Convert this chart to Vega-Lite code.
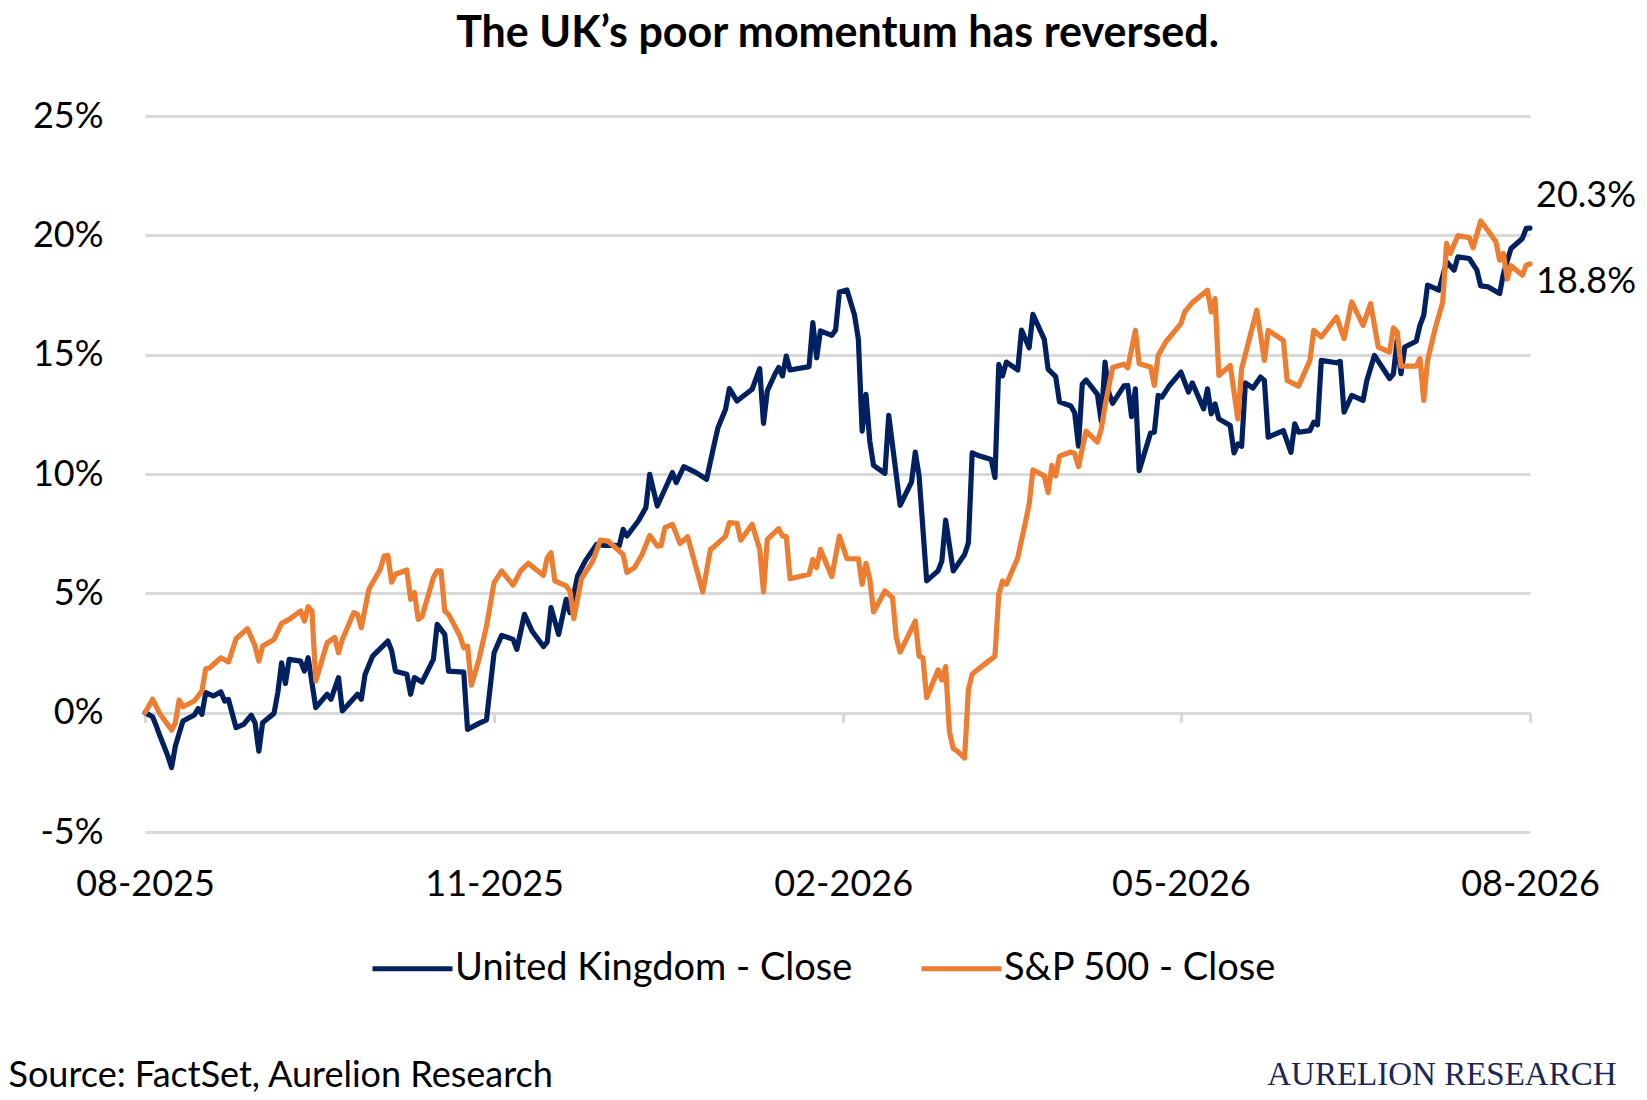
{
  "$schema": "https://vega.github.io/schema/vega-lite/v6.json",
  "width": 1385,
  "height": 716,
  "autosize": {"type": "none"},
  "padding": {"left": 145, "top": 116, "right": 117, "bottom": 268},
  "background": "#ffffff",
  "title": {
    "text": "The UK’s poor momentum has reversed.",
    "anchor": "middle",
    "frame": "group",
    "baseline": "alphabetic",
    "offset": 8,
    "fontSize": 43,
    "fontWeight": "bold",
    "color": "#000000"
  },
  "data": {
    "format": {"parse": {"date": "utc:'%Y-%m-%d'"}},
    "values": [
      {"date": "2025-08-01", "series": "UK", "value": 0},
      {"date": "2025-08-03", "series": "UK", "value": -0.0017},
      {"date": "2025-08-04", "series": "UK", "value": -0.0056},
      {"date": "2025-08-05", "series": "UK", "value": -0.01},
      {"date": "2025-08-07", "series": "UK", "value": -0.018},
      {"date": "2025-08-08", "series": "UK", "value": -0.023},
      {"date": "2025-08-09", "series": "UK", "value": -0.014},
      {"date": "2025-08-11", "series": "UK", "value": -0.0035},
      {"date": "2025-08-14", "series": "UK", "value": -0.001},
      {"date": "2025-08-15", "series": "UK", "value": 0.0017},
      {"date": "2025-08-16", "series": "UK", "value": -0.0007},
      {"date": "2025-08-17", "series": "UK", "value": 0.0084},
      {"date": "2025-08-19", "series": "UK", "value": 0.007},
      {"date": "2025-08-21", "series": "UK", "value": 0.0087},
      {"date": "2025-08-22", "series": "UK", "value": 0.0049},
      {"date": "2025-08-23", "series": "UK", "value": 0.0055},
      {"date": "2025-08-25", "series": "UK", "value": -0.0063},
      {"date": "2025-08-27", "series": "UK", "value": -0.0049},
      {"date": "2025-08-29", "series": "UK", "value": -0.0011},
      {"date": "2025-08-30", "series": "UK", "value": -0.0042},
      {"date": "2025-08-31", "series": "UK", "value": -0.0161},
      {"date": "2025-09-01", "series": "UK", "value": -0.0042},
      {"date": "2025-09-04", "series": "UK", "value": -0.0003},
      {"date": "2025-09-05", "series": "UK", "value": 0.0084},
      {"date": "2025-09-06", "series": "UK", "value": 0.0209},
      {"date": "2025-09-07", "series": "UK", "value": 0.0122},
      {"date": "2025-09-08", "series": "UK", "value": 0.0223},
      {"date": "2025-09-11", "series": "UK", "value": 0.0216},
      {"date": "2025-09-12", "series": "UK", "value": 0.0174},
      {"date": "2025-09-13", "series": "UK", "value": 0.023},
      {"date": "2025-09-15", "series": "UK", "value": 0.0021},
      {"date": "2025-09-18", "series": "UK", "value": 0.0077},
      {"date": "2025-09-19", "series": "UK", "value": 0.0056},
      {"date": "2025-09-21", "series": "UK", "value": 0.0147},
      {"date": "2025-09-22", "series": "UK", "value": 0.0007},
      {"date": "2025-09-26", "series": "UK", "value": 0.0077},
      {"date": "2025-09-27", "series": "UK", "value": 0.0056},
      {"date": "2025-09-28", "series": "UK", "value": 0.016},
      {"date": "2025-09-30", "series": "UK", "value": 0.0237},
      {"date": "2025-10-04", "series": "UK", "value": 0.03},
      {"date": "2025-10-05", "series": "UK", "value": 0.026},
      {"date": "2025-10-06", "series": "UK", "value": 0.0174},
      {"date": "2025-10-09", "series": "UK", "value": 0.0161},
      {"date": "2025-10-10", "series": "UK", "value": 0.0077},
      {"date": "2025-10-11", "series": "UK", "value": 0.0147},
      {"date": "2025-10-13", "series": "UK", "value": 0.0128},
      {"date": "2025-10-16", "series": "UK", "value": 0.0223},
      {"date": "2025-10-17", "series": "UK", "value": 0.037},
      {"date": "2025-10-19", "series": "UK", "value": 0.0328},
      {"date": "2025-10-20", "series": "UK", "value": 0.0174},
      {"date": "2025-10-24", "series": "UK", "value": 0.017},
      {"date": "2025-10-25", "series": "UK", "value": -0.007},
      {"date": "2025-10-28", "series": "UK", "value": -0.0045},
      {"date": "2025-10-30", "series": "UK", "value": -0.003},
      {"date": "2025-11-01", "series": "UK", "value": 0.0251},
      {"date": "2025-11-03", "series": "UK", "value": 0.0324},
      {"date": "2025-11-06", "series": "UK", "value": 0.0307},
      {"date": "2025-11-07", "series": "UK", "value": 0.0265},
      {"date": "2025-11-09", "series": "UK", "value": 0.0412},
      {"date": "2025-11-11", "series": "UK", "value": 0.0342},
      {"date": "2025-11-14", "series": "UK", "value": 0.0277},
      {"date": "2025-11-15", "series": "UK", "value": 0.0296},
      {"date": "2025-11-16", "series": "UK", "value": 0.044},
      {"date": "2025-11-18", "series": "UK", "value": 0.0328},
      {"date": "2025-11-20", "series": "UK", "value": 0.0475},
      {"date": "2025-11-21", "series": "UK", "value": 0.0419},
      {"date": "2025-11-23", "series": "UK", "value": 0.0573},
      {"date": "2025-11-25", "series": "UK", "value": 0.0635},
      {"date": "2025-11-28", "series": "UK", "value": 0.0705},
      {"date": "2025-11-30", "series": "UK", "value": 0.0701},
      {"date": "2025-12-02", "series": "UK", "value": 0.0701},
      {"date": "2025-12-04", "series": "UK", "value": 0.07},
      {"date": "2025-12-05", "series": "UK", "value": 0.0768},
      {"date": "2025-12-06", "series": "UK", "value": 0.074},
      {"date": "2025-12-09", "series": "UK", "value": 0.0803},
      {"date": "2025-12-11", "series": "UK", "value": 0.0859},
      {"date": "2025-12-12", "series": "UK", "value": 0.0999},
      {"date": "2025-12-14", "series": "UK", "value": 0.0866},
      {"date": "2025-12-16", "series": "UK", "value": 0.0936},
      {"date": "2025-12-18", "series": "UK", "value": 0.1006},
      {"date": "2025-12-19", "series": "UK", "value": 0.0964},
      {"date": "2025-12-21", "series": "UK", "value": 0.1031},
      {"date": "2025-12-24", "series": "UK", "value": 0.1008},
      {"date": "2025-12-27", "series": "UK", "value": 0.0978},
      {"date": "2025-12-29", "series": "UK", "value": 0.1124},
      {"date": "2025-12-30", "series": "UK", "value": 0.1194},
      {"date": "2026-01-01", "series": "UK", "value": 0.1271},
      {"date": "2026-01-02", "series": "UK", "value": 0.1358},
      {"date": "2026-01-04", "series": "UK", "value": 0.1306},
      {"date": "2026-01-08", "series": "UK", "value": 0.1355},
      {"date": "2026-01-10", "series": "UK", "value": 0.1441},
      {"date": "2026-01-11", "series": "UK", "value": 0.1212},
      {"date": "2026-01-12", "series": "UK", "value": 0.1348},
      {"date": "2026-01-14", "series": "UK", "value": 0.1418},
      {"date": "2026-01-15", "series": "UK", "value": 0.1446},
      {"date": "2026-01-16", "series": "UK", "value": 0.1411},
      {"date": "2026-01-17", "series": "UK", "value": 0.1494},
      {"date": "2026-01-18", "series": "UK", "value": 0.1436},
      {"date": "2026-01-23", "series": "UK", "value": 0.145},
      {"date": "2026-01-24", "series": "UK", "value": 0.1634},
      {"date": "2026-01-25", "series": "UK", "value": 0.1487},
      {"date": "2026-01-26", "series": "UK", "value": 0.16},
      {"date": "2026-01-29", "series": "UK", "value": 0.1581},
      {"date": "2026-01-30", "series": "UK", "value": 0.1603},
      {"date": "2026-01-31", "series": "UK", "value": 0.1763},
      {"date": "2026-02-02", "series": "UK", "value": 0.1771},
      {"date": "2026-02-04", "series": "UK", "value": 0.1665},
      {"date": "2026-02-05", "series": "UK", "value": 0.1564},
      {"date": "2026-02-06", "series": "UK", "value": 0.118},
      {"date": "2026-02-07", "series": "UK", "value": 0.1334},
      {"date": "2026-02-08", "series": "UK", "value": 0.1138},
      {"date": "2026-02-09", "series": "UK", "value": 0.1036},
      {"date": "2026-02-12", "series": "UK", "value": 0.1003},
      {"date": "2026-02-13", "series": "UK", "value": 0.1246},
      {"date": "2026-02-16", "series": "UK", "value": 0.0869},
      {"date": "2026-02-19", "series": "UK", "value": 0.0966},
      {"date": "2026-02-20", "series": "UK", "value": 0.1092},
      {"date": "2026-02-21", "series": "UK", "value": 0.0992},
      {"date": "2026-02-23", "series": "UK", "value": 0.0552},
      {"date": "2026-02-26", "series": "UK", "value": 0.0594},
      {"date": "2026-02-27", "series": "UK", "value": 0.0635},
      {"date": "2026-02-28", "series": "UK", "value": 0.0807},
      {"date": "2026-03-02", "series": "UK", "value": 0.0594},
      {"date": "2026-03-05", "series": "UK", "value": 0.0663},
      {"date": "2026-03-06", "series": "UK", "value": 0.0712},
      {"date": "2026-03-07", "series": "UK", "value": 0.1089},
      {"date": "2026-03-09", "series": "UK", "value": 0.1075},
      {"date": "2026-03-12", "series": "UK", "value": 0.1061},
      {"date": "2026-03-13", "series": "UK", "value": 0.0985},
      {"date": "2026-03-14", "series": "UK", "value": 0.1459},
      {"date": "2026-03-15", "series": "UK", "value": 0.1411},
      {"date": "2026-03-16", "series": "UK", "value": 0.1469},
      {"date": "2026-03-19", "series": "UK", "value": 0.1436},
      {"date": "2026-03-20", "series": "UK", "value": 0.1603},
      {"date": "2026-03-22", "series": "UK", "value": 0.1529},
      {"date": "2026-03-23", "series": "UK", "value": 0.1669},
      {"date": "2026-03-26", "series": "UK", "value": 0.1564},
      {"date": "2026-03-27", "series": "UK", "value": 0.1439},
      {"date": "2026-03-29", "series": "UK", "value": 0.1408},
      {"date": "2026-03-30", "series": "UK", "value": 0.1302},
      {"date": "2026-04-02", "series": "UK", "value": 0.1285},
      {"date": "2026-04-03", "series": "UK", "value": 0.1257},
      {"date": "2026-04-04", "series": "UK", "value": 0.1117},
      {"date": "2026-04-05", "series": "UK", "value": 0.1376},
      {"date": "2026-04-06", "series": "UK", "value": 0.1394},
      {"date": "2026-04-09", "series": "UK", "value": 0.1334},
      {"date": "2026-04-10", "series": "UK", "value": 0.1222},
      {"date": "2026-04-11", "series": "UK", "value": 0.1469},
      {"date": "2026-04-12", "series": "UK", "value": 0.1341},
      {"date": "2026-04-13", "series": "UK", "value": 0.1296},
      {"date": "2026-04-16", "series": "UK", "value": 0.1369},
      {"date": "2026-04-17", "series": "UK", "value": 0.1371},
      {"date": "2026-04-18", "series": "UK", "value": 0.124},
      {"date": "2026-04-19", "series": "UK", "value": 0.1357},
      {"date": "2026-04-20", "series": "UK", "value": 0.1014},
      {"date": "2026-04-23", "series": "UK", "value": 0.1172},
      {"date": "2026-04-24", "series": "UK", "value": 0.1175},
      {"date": "2026-04-25", "series": "UK", "value": 0.1329},
      {"date": "2026-04-26", "series": "UK", "value": 0.1322},
      {"date": "2026-04-28", "series": "UK", "value": 0.1371},
      {"date": "2026-05-01", "series": "UK", "value": 0.1427},
      {"date": "2026-05-03", "series": "UK", "value": 0.1343},
      {"date": "2026-05-04", "series": "UK", "value": 0.1382},
      {"date": "2026-05-07", "series": "UK", "value": 0.1273},
      {"date": "2026-05-08", "series": "UK", "value": 0.1357},
      {"date": "2026-05-09", "series": "UK", "value": 0.1252},
      {"date": "2026-05-10", "series": "UK", "value": 0.1294},
      {"date": "2026-05-11", "series": "UK", "value": 0.1231},
      {"date": "2026-05-14", "series": "UK", "value": 0.1203},
      {"date": "2026-05-15", "series": "UK", "value": 0.1088},
      {"date": "2026-05-16", "series": "UK", "value": 0.1126},
      {"date": "2026-05-17", "series": "UK", "value": 0.1116},
      {"date": "2026-05-18", "series": "UK", "value": 0.1382},
      {"date": "2026-05-20", "series": "UK", "value": 0.136},
      {"date": "2026-05-22", "series": "UK", "value": 0.1406},
      {"date": "2026-05-23", "series": "UK", "value": 0.1392},
      {"date": "2026-05-24", "series": "UK", "value": 0.1154},
      {"date": "2026-05-28", "series": "UK", "value": 0.1182},
      {"date": "2026-05-30", "series": "UK", "value": 0.1091},
      {"date": "2026-05-31", "series": "UK", "value": 0.121},
      {"date": "2026-06-01", "series": "UK", "value": 0.1175},
      {"date": "2026-06-04", "series": "UK", "value": 0.1182},
      {"date": "2026-06-05", "series": "UK", "value": 0.1217},
      {"date": "2026-06-06", "series": "UK", "value": 0.1206},
      {"date": "2026-06-07", "series": "UK", "value": 0.1476},
      {"date": "2026-06-11", "series": "UK", "value": 0.1466},
      {"date": "2026-06-12", "series": "UK", "value": 0.1472},
      {"date": "2026-06-13", "series": "UK", "value": 0.1259},
      {"date": "2026-06-15", "series": "UK", "value": 0.1329},
      {"date": "2026-06-18", "series": "UK", "value": 0.1308},
      {"date": "2026-06-19", "series": "UK", "value": 0.1392},
      {"date": "2026-06-21", "series": "UK", "value": 0.1497},
      {"date": "2026-06-25", "series": "UK", "value": 0.14},
      {"date": "2026-06-26", "series": "UK", "value": 0.142},
      {"date": "2026-06-27", "series": "UK", "value": 0.156},
      {"date": "2026-06-28", "series": "UK", "value": 0.142},
      {"date": "2026-06-29", "series": "UK", "value": 0.1532},
      {"date": "2026-07-02", "series": "UK", "value": 0.1556},
      {"date": "2026-07-03", "series": "UK", "value": 0.1623},
      {"date": "2026-07-04", "series": "UK", "value": 0.1665},
      {"date": "2026-07-05", "series": "UK", "value": 0.1791},
      {"date": "2026-07-08", "series": "UK", "value": 0.177},
      {"date": "2026-07-10", "series": "UK", "value": 0.1889},
      {"date": "2026-07-12", "series": "UK", "value": 0.1854},
      {"date": "2026-07-13", "series": "UK", "value": 0.191},
      {"date": "2026-07-16", "series": "UK", "value": 0.1903},
      {"date": "2026-07-18", "series": "UK", "value": 0.1854},
      {"date": "2026-07-19", "series": "UK", "value": 0.1788},
      {"date": "2026-07-21", "series": "UK", "value": 0.1784},
      {"date": "2026-07-24", "series": "UK", "value": 0.1756},
      {"date": "2026-07-25", "series": "UK", "value": 0.184},
      {"date": "2026-07-27", "series": "UK", "value": 0.1945},
      {"date": "2026-07-30", "series": "UK", "value": 0.1987},
      {"date": "2026-07-31", "series": "UK", "value": 0.2029},
      {"date": "2026-08-01", "series": "UK", "value": 0.203},
      {"date": "2025-08-01", "series": "SPX", "value": 0},
      {"date": "2025-08-03", "series": "SPX", "value": 0.0056},
      {"date": "2025-08-05", "series": "SPX", "value": -0.0007},
      {"date": "2025-08-08", "series": "SPX", "value": -0.0073},
      {"date": "2025-08-09", "series": "SPX", "value": -0.0042},
      {"date": "2025-08-10", "series": "SPX", "value": 0.0053},
      {"date": "2025-08-11", "series": "SPX", "value": 0.0025},
      {"date": "2025-08-14", "series": "SPX", "value": 0.0049},
      {"date": "2025-08-16", "series": "SPX", "value": 0.0091},
      {"date": "2025-08-17", "series": "SPX", "value": 0.0184},
      {"date": "2025-08-18", "series": "SPX", "value": 0.0187},
      {"date": "2025-08-21", "series": "SPX", "value": 0.023},
      {"date": "2025-08-23", "series": "SPX", "value": 0.0212},
      {"date": "2025-08-25", "series": "SPX", "value": 0.031},
      {"date": "2025-08-28", "series": "SPX", "value": 0.0352},
      {"date": "2025-08-30", "series": "SPX", "value": 0.0279},
      {"date": "2025-08-31", "series": "SPX", "value": 0.0216},
      {"date": "2025-09-01", "series": "SPX", "value": 0.0279},
      {"date": "2025-09-04", "series": "SPX", "value": 0.0307},
      {"date": "2025-09-06", "series": "SPX", "value": 0.0374},
      {"date": "2025-09-08", "series": "SPX", "value": 0.0391},
      {"date": "2025-09-11", "series": "SPX", "value": 0.0426},
      {"date": "2025-09-12", "series": "SPX", "value": 0.0384},
      {"date": "2025-09-13", "series": "SPX", "value": 0.0444},
      {"date": "2025-09-14", "series": "SPX", "value": 0.0426},
      {"date": "2025-09-15", "series": "SPX", "value": 0.0133},
      {"date": "2025-09-18", "series": "SPX", "value": 0.0293},
      {"date": "2025-09-20", "series": "SPX", "value": 0.0315},
      {"date": "2025-09-21", "series": "SPX", "value": 0.0251},
      {"date": "2025-09-22", "series": "SPX", "value": 0.0307},
      {"date": "2025-09-25", "series": "SPX", "value": 0.0419},
      {"date": "2025-09-26", "series": "SPX", "value": 0.0412},
      {"date": "2025-09-27", "series": "SPX", "value": 0.0356},
      {"date": "2025-09-29", "series": "SPX", "value": 0.0517},
      {"date": "2025-10-02", "series": "SPX", "value": 0.0601},
      {"date": "2025-10-03", "series": "SPX", "value": 0.0656},
      {"date": "2025-10-04", "series": "SPX", "value": 0.0659},
      {"date": "2025-10-05", "series": "SPX", "value": 0.0547},
      {"date": "2025-10-06", "series": "SPX", "value": 0.058},
      {"date": "2025-10-09", "series": "SPX", "value": 0.0598},
      {"date": "2025-10-10", "series": "SPX", "value": 0.0475},
      {"date": "2025-10-11", "series": "SPX", "value": 0.0503},
      {"date": "2025-10-12", "series": "SPX", "value": 0.0391},
      {"date": "2025-10-13", "series": "SPX", "value": 0.0402},
      {"date": "2025-10-16", "series": "SPX", "value": 0.0566},
      {"date": "2025-10-17", "series": "SPX", "value": 0.0594},
      {"date": "2025-10-18", "series": "SPX", "value": 0.0594},
      {"date": "2025-10-19", "series": "SPX", "value": 0.0426},
      {"date": "2025-10-20", "series": "SPX", "value": 0.0412},
      {"date": "2025-10-23", "series": "SPX", "value": 0.0321},
      {"date": "2025-10-24", "series": "SPX", "value": 0.0272},
      {"date": "2025-10-25", "series": "SPX", "value": 0.0279},
      {"date": "2025-10-26", "series": "SPX", "value": 0.0115},
      {"date": "2025-10-28", "series": "SPX", "value": 0.0223},
      {"date": "2025-10-30", "series": "SPX", "value": 0.0363},
      {"date": "2025-11-01", "series": "SPX", "value": 0.0545},
      {"date": "2025-11-03", "series": "SPX", "value": 0.0594},
      {"date": "2025-11-06", "series": "SPX", "value": 0.0534},
      {"date": "2025-11-08", "series": "SPX", "value": 0.0594},
      {"date": "2025-11-10", "series": "SPX", "value": 0.0626},
      {"date": "2025-11-14", "series": "SPX", "value": 0.0575},
      {"date": "2025-11-15", "series": "SPX", "value": 0.0649},
      {"date": "2025-11-16", "series": "SPX", "value": 0.067},
      {"date": "2025-11-17", "series": "SPX", "value": 0.0552},
      {"date": "2025-11-20", "series": "SPX", "value": 0.0531},
      {"date": "2025-11-21", "series": "SPX", "value": 0.051},
      {"date": "2025-11-22", "series": "SPX", "value": 0.0394},
      {"date": "2025-11-24", "series": "SPX", "value": 0.0561},
      {"date": "2025-11-27", "series": "SPX", "value": 0.0635},
      {"date": "2025-11-29", "series": "SPX", "value": 0.0723},
      {"date": "2025-12-01", "series": "SPX", "value": 0.0719},
      {"date": "2025-12-05", "series": "SPX", "value": 0.0663},
      {"date": "2025-12-06", "series": "SPX", "value": 0.0587},
      {"date": "2025-12-08", "series": "SPX", "value": 0.0608},
      {"date": "2025-12-10", "series": "SPX", "value": 0.0663},
      {"date": "2025-12-12", "series": "SPX", "value": 0.0743},
      {"date": "2025-12-14", "series": "SPX", "value": 0.0698},
      {"date": "2025-12-15", "series": "SPX", "value": 0.07},
      {"date": "2025-12-16", "series": "SPX", "value": 0.0775},
      {"date": "2025-12-18", "series": "SPX", "value": 0.0789},
      {"date": "2025-12-20", "series": "SPX", "value": 0.0709},
      {"date": "2025-12-22", "series": "SPX", "value": 0.0737},
      {"date": "2025-12-26", "series": "SPX", "value": 0.0506},
      {"date": "2025-12-28", "series": "SPX", "value": 0.0684},
      {"date": "2025-12-29", "series": "SPX", "value": 0.0696},
      {"date": "2026-01-01", "series": "SPX", "value": 0.074},
      {"date": "2026-01-02", "series": "SPX", "value": 0.0796},
      {"date": "2026-01-04", "series": "SPX", "value": 0.0793},
      {"date": "2026-01-05", "series": "SPX", "value": 0.0723},
      {"date": "2026-01-08", "series": "SPX", "value": 0.0789},
      {"date": "2026-01-10", "series": "SPX", "value": 0.0684},
      {"date": "2026-01-11", "series": "SPX", "value": 0.0506},
      {"date": "2026-01-12", "series": "SPX", "value": 0.0726},
      {"date": "2026-01-15", "series": "SPX", "value": 0.0771},
      {"date": "2026-01-16", "series": "SPX", "value": 0.074},
      {"date": "2026-01-17", "series": "SPX", "value": 0.0738},
      {"date": "2026-01-18", "series": "SPX", "value": 0.0561},
      {"date": "2026-01-23", "series": "SPX", "value": 0.058},
      {"date": "2026-01-24", "series": "SPX", "value": 0.0642},
      {"date": "2026-01-25", "series": "SPX", "value": 0.0608},
      {"date": "2026-01-26", "series": "SPX", "value": 0.0684},
      {"date": "2026-01-29", "series": "SPX", "value": 0.057},
      {"date": "2026-01-31", "series": "SPX", "value": 0.074},
      {"date": "2026-02-02", "series": "SPX", "value": 0.0645},
      {"date": "2026-02-05", "series": "SPX", "value": 0.0645},
      {"date": "2026-02-06", "series": "SPX", "value": 0.0538},
      {"date": "2026-02-07", "series": "SPX", "value": 0.0626},
      {"date": "2026-02-08", "series": "SPX", "value": 0.0561},
      {"date": "2026-02-09", "series": "SPX", "value": 0.0422},
      {"date": "2026-02-12", "series": "SPX", "value": 0.051},
      {"date": "2026-02-14", "series": "SPX", "value": 0.0482},
      {"date": "2026-02-15", "series": "SPX", "value": 0.0314},
      {"date": "2026-02-16", "series": "SPX", "value": 0.0254},
      {"date": "2026-02-20", "series": "SPX", "value": 0.0384},
      {"date": "2026-02-21", "series": "SPX", "value": 0.0237},
      {"date": "2026-02-22", "series": "SPX", "value": 0.023},
      {"date": "2026-02-23", "series": "SPX", "value": 0.0063},
      {"date": "2026-02-26", "series": "SPX", "value": 0.0179},
      {"date": "2026-02-27", "series": "SPX", "value": 0.0137},
      {"date": "2026-02-28", "series": "SPX", "value": 0.0193},
      {"date": "2026-03-01", "series": "SPX", "value": -0.008},
      {"date": "2026-03-02", "series": "SPX", "value": -0.015},
      {"date": "2026-03-03", "series": "SPX", "value": -0.016},
      {"date": "2026-03-05", "series": "SPX", "value": -0.019},
      {"date": "2026-03-06", "series": "SPX", "value": 0.0098},
      {"date": "2026-03-07", "series": "SPX", "value": 0.0161},
      {"date": "2026-03-08", "series": "SPX", "value": 0.0175},
      {"date": "2026-03-13", "series": "SPX", "value": 0.0237},
      {"date": "2026-03-14", "series": "SPX", "value": 0.0496},
      {"date": "2026-03-15", "series": "SPX", "value": 0.0552},
      {"date": "2026-03-16", "series": "SPX", "value": 0.0538},
      {"date": "2026-03-19", "series": "SPX", "value": 0.0649},
      {"date": "2026-03-21", "series": "SPX", "value": 0.0796},
      {"date": "2026-03-22", "series": "SPX", "value": 0.0873},
      {"date": "2026-03-23", "series": "SPX", "value": 0.1017},
      {"date": "2026-03-26", "series": "SPX", "value": 0.0992},
      {"date": "2026-03-27", "series": "SPX", "value": 0.0922},
      {"date": "2026-03-28", "series": "SPX", "value": 0.1036},
      {"date": "2026-03-29", "series": "SPX", "value": 0.0992},
      {"date": "2026-03-30", "series": "SPX", "value": 0.1075},
      {"date": "2026-04-02", "series": "SPX", "value": 0.1092},
      {"date": "2026-04-03", "series": "SPX", "value": 0.1085},
      {"date": "2026-04-04", "series": "SPX", "value": 0.1031},
      {"date": "2026-04-06", "series": "SPX", "value": 0.118},
      {"date": "2026-04-09", "series": "SPX", "value": 0.1134},
      {"date": "2026-04-10", "series": "SPX", "value": 0.1187},
      {"date": "2026-04-11", "series": "SPX", "value": 0.1285},
      {"date": "2026-04-13", "series": "SPX", "value": 0.1446},
      {"date": "2026-04-16", "series": "SPX", "value": 0.146},
      {"date": "2026-04-17", "series": "SPX", "value": 0.1445},
      {"date": "2026-04-19", "series": "SPX", "value": 0.1602},
      {"date": "2026-04-20", "series": "SPX", "value": 0.1462},
      {"date": "2026-04-23", "series": "SPX", "value": 0.1448},
      {"date": "2026-04-24", "series": "SPX", "value": 0.1371},
      {"date": "2026-04-25", "series": "SPX", "value": 0.1497},
      {"date": "2026-04-27", "series": "SPX", "value": 0.1553},
      {"date": "2026-05-01", "series": "SPX", "value": 0.163},
      {"date": "2026-05-02", "series": "SPX", "value": 0.1679},
      {"date": "2026-05-04", "series": "SPX", "value": 0.1718},
      {"date": "2026-05-08", "series": "SPX", "value": 0.177},
      {"date": "2026-05-09", "series": "SPX", "value": 0.1679},
      {"date": "2026-05-10", "series": "SPX", "value": 0.1735},
      {"date": "2026-05-11", "series": "SPX", "value": 0.1413},
      {"date": "2026-05-14", "series": "SPX", "value": 0.1455},
      {"date": "2026-05-16", "series": "SPX", "value": 0.1231},
      {"date": "2026-05-17", "series": "SPX", "value": 0.1441},
      {"date": "2026-05-21", "series": "SPX", "value": 0.1686},
      {"date": "2026-05-23", "series": "SPX", "value": 0.1476},
      {"date": "2026-05-24", "series": "SPX", "value": 0.1602},
      {"date": "2026-05-28", "series": "SPX", "value": 0.156},
      {"date": "2026-05-29", "series": "SPX", "value": 0.1392},
      {"date": "2026-06-01", "series": "SPX", "value": 0.1368},
      {"date": "2026-06-04", "series": "SPX", "value": 0.1476},
      {"date": "2026-06-05", "series": "SPX", "value": 0.1602},
      {"date": "2026-06-07", "series": "SPX", "value": 0.1574},
      {"date": "2026-06-11", "series": "SPX", "value": 0.1658},
      {"date": "2026-06-13", "series": "SPX", "value": 0.1567},
      {"date": "2026-06-15", "series": "SPX", "value": 0.1721},
      {"date": "2026-06-18", "series": "SPX", "value": 0.1623},
      {"date": "2026-06-20", "series": "SPX", "value": 0.1714},
      {"date": "2026-06-22", "series": "SPX", "value": 0.1532},
      {"date": "2026-06-25", "series": "SPX", "value": 0.1511},
      {"date": "2026-06-26", "series": "SPX", "value": 0.1612},
      {"date": "2026-06-27", "series": "SPX", "value": 0.1595},
      {"date": "2026-06-28", "series": "SPX", "value": 0.1452},
      {"date": "2026-07-02", "series": "SPX", "value": 0.1452},
      {"date": "2026-07-03", "series": "SPX", "value": 0.1483},
      {"date": "2026-07-04", "series": "SPX", "value": 0.1308},
      {"date": "2026-07-05", "series": "SPX", "value": 0.1476},
      {"date": "2026-07-07", "series": "SPX", "value": 0.1609},
      {"date": "2026-07-09", "series": "SPX", "value": 0.1721},
      {"date": "2026-07-10", "series": "SPX", "value": 0.1966},
      {"date": "2026-07-11", "series": "SPX", "value": 0.1924},
      {"date": "2026-07-13", "series": "SPX", "value": 0.1999},
      {"date": "2026-07-16", "series": "SPX", "value": 0.199},
      {"date": "2026-07-17", "series": "SPX", "value": 0.1948},
      {"date": "2026-07-19", "series": "SPX", "value": 0.206},
      {"date": "2026-07-21", "series": "SPX", "value": 0.2018},
      {"date": "2026-07-23", "series": "SPX", "value": 0.1973},
      {"date": "2026-07-24", "series": "SPX", "value": 0.1896},
      {"date": "2026-07-25", "series": "SPX", "value": 0.1924},
      {"date": "2026-07-26", "series": "SPX", "value": 0.1817},
      {"date": "2026-07-27", "series": "SPX", "value": 0.1873},
      {"date": "2026-07-30", "series": "SPX", "value": 0.1833},
      {"date": "2026-07-31", "series": "SPX", "value": 0.1875},
      {"date": "2026-08-01", "series": "SPX", "value": 0.188}
    ]
  },
  "encoding": {
    "x": {
      "field": "date",
      "type": "temporal",
      "scale": {
        "type": "utc",
        "domain": [
          {"year": 2025, "month": 8, "date": 1, "utc": true},
          {"year": 2026, "month": 8, "date": 1, "utc": true}
        ]
      },
      "axis": {
        "values": [
          {"year": 2025, "month": 8, "date": 1, "utc": true},
          {"year": 2025, "month": 11, "date": 1, "utc": true},
          {"year": 2026, "month": 2, "date": 1, "utc": true},
          {"year": 2026, "month": 5, "date": 1, "utc": true},
          {"year": 2026, "month": 8, "date": 1, "utc": true}
        ],
        "format": "%m-%Y",
        "offset": -119.4,
        "domain": false,
        "grid": false,
        "ticks": true,
        "tickSize": 10,
        "tickWidth": 3,
        "tickColor": "#d9d9d9",
        "labelPadding": 145,
        "labelFlush": false,
        "labelOverlap": false,
        "labelFontSize": 36,
        "labelColor": "#000000",
        "title": "Source: FactSet, Aurelion Research",
        "titleX": -137,
        "titleY": 374,
        "titleAlign": "left",
        "titleBaseline": "alphabetic",
        "titleFontSize": 36,
        "titleFontWeight": "normal",
        "titleColor": "#000000"
      }
    },
    "y": {
      "field": "value",
      "type": "quantitative",
      "scale": {"domain": [-0.05, 0.25], "nice": false, "zero": false},
      "axis": {
        "values": [-0.05, 0, 0.05, 0.1, 0.15, 0.2, 0.25],
        "format": ".0%",
        "labelExpr": "replace(datum.label, '−', '-')",
        "domain": false,
        "ticks": false,
        "grid": true,
        "gridColor": "#d9d9d9",
        "gridWidth": 3,
        "labelPadding": 42,
        "labelFontSize": 36,
        "labelColor": "#000000",
        "title": "AURELION RESEARCH",
        "titleAngle": 0,
        "titleX": 1471,
        "titleY": 968,
        "titleAlign": "right",
        "titleBaseline": "alphabetic",
        "titleFont": "Liberation Serif",
        "titleFontSize": 33,
        "titleFontWeight": "normal",
        "titleColor": "#1a2658"
      }
    }
  },
  "layer": [
    {
      "mark": {"type": "line", "strokeWidth": 5.2, "strokeJoin": "round", "strokeCap": "round"},
      "encoding": {
        "color": {
          "field": "series",
          "type": "nominal",
          "scale": {"domain": ["UK", "SPX"], "range": ["#002060", "#ed7d31"]},
          "legend": {
            "orient": "none",
            "legendX": 225,
            "legendY": 810,
            "direction": "horizontal",
            "title": null,
            "padding": 0,
            "symbolType": "stroke",
            "symbolSize": 6400,
            "symbolStrokeWidth": 5,
            "labelFontSize": 38,
            "labelColor": "#000000",
            "labelOffset": 0,
            "labelLimit": 0,
            "columnPadding": 58,
            "labelExpr": "datum.label == 'UK' ? 'United Kingdom - Close' : 'S&P 500 - Close'"
          }
        }
      }
    },
    {
      "transform": [
        {"filter": "datum.series == 'UK'"},
        {"joinaggregate": [{"op": "max", "field": "date", "as": "last"}]},
        {"filter": "datum.date >= datum.last"}
      ],
      "mark": {"type": "text", "align": "left", "baseline": "middle", "dx": 6, "dy": -32, "fontSize": 36, "color": "#000000"},
      "encoding": {"text": {"field": "value", "type": "quantitative", "format": ".1%"}}
    },
    {
      "transform": [
        {"filter": "datum.series == 'SPX'"},
        {"joinaggregate": [{"op": "max", "field": "date", "as": "last"}]},
        {"filter": "datum.date >= datum.last"}
      ],
      "mark": {"type": "text", "align": "left", "baseline": "middle", "dx": 6, "dy": 18, "fontSize": 36, "color": "#000000"},
      "encoding": {"text": {"field": "value", "type": "quantitative", "format": ".1%"}}
    }
  ],
  "config": {
    "font": "Lato",
    "view": {"stroke": null}
  }
}
